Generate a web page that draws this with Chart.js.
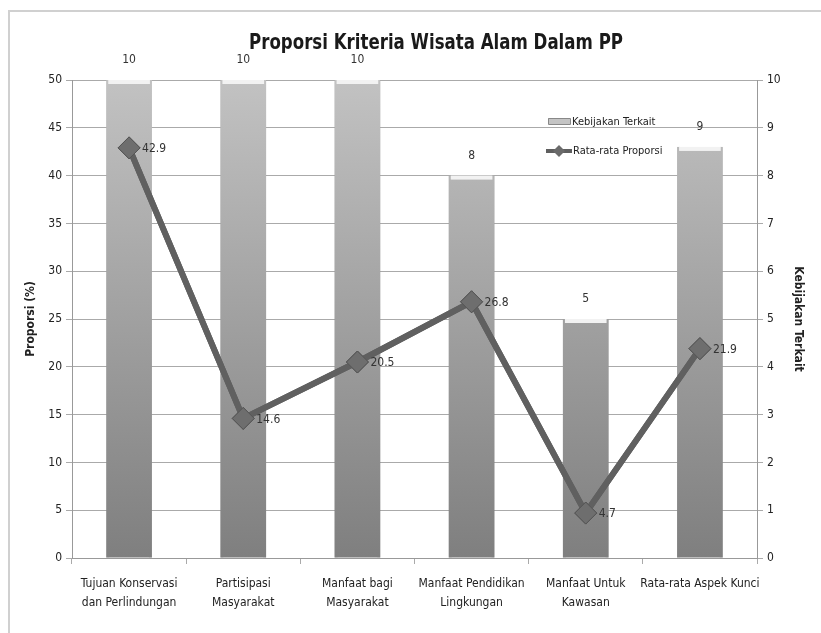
<!DOCTYPE html>
<html>
<head>
<meta charset="utf-8">
<script src="https://cdn.jsdelivr.net/npm/chart.js@4.4.0/dist/chart.umd.min.js"></script>
<style>
  html, body { margin: 0; padding: 0; background: #fff; }
  #wrap { position: relative; width: 821px; height: 633px; }
</style>
</head>
<body>
<div id="wrap"><canvas id="kriteriaChart" width="821" height="633"></canvas></div>
<script>
// data kriteria
const categories = [
  ['Tujuan Konservasi', 'dan Perlindungan'],
  ['Partisipasi', 'Masyarakat'],
  ['Manfaat bagi', 'Masyarakat'],
  ['Manfaat Pendidikan', 'Lingkungan'],
  ['Manfaat Untuk', 'Kawasan'],
  ['Rata-rata Aspek Kunci']
];
const kebijakanTerkait = [10, 10, 10, 8, 5, 8.6];
const rataProporsi = [42.9, 14.6, 20.5, 26.8, 4.7, 21.9];
const leftTicks = [0, 5, 10, 15, 20, 25, 30, 35, 40, 45, 50];
const rightTicks = [0, 1, 2, 3, 4, 5, 6, 7, 8, 9, 10];

const FONT = '"DejaVu Sans Condensed", "Liberation Sans Narrow", Arial, sans-serif';

function barGradient(context) {
  const chart = context.chart;
  const area = chart.chartArea;
  if (!area) return '#a0a0a0';
  const g = chart.ctx.createLinearGradient(0, area.top, 0, area.bottom);
  g.addColorStop(0, '#c2c2c2');
  g.addColorStop(1, '#7f7f7f');
  return g;
}

// frame, title, legend, labels
const extras = {
  id: 'extras',
  beforeDraw(chart) {
    const c = chart.ctx;
    c.save();
    c.strokeStyle = '#d0d0d0';
    c.lineWidth = 2;
    c.strokeRect(9, 11, 830, 640);
    c.restore();
  },
  beforeDatasetsDraw(chart) {
    // light cap + darker sides on bars (Excel style)
    const c = chart.ctx;
    c.save();
    chart.getDatasetMeta(1).data.forEach(bar => {
      const w = bar.width;
      const left = bar.x - w / 2;
      c.fillStyle = 'rgba(90,90,90,0.25)';
      c.fillRect(left, bar.y, 3, bar.base - bar.y);
      c.fillRect(left + w - 3, bar.y, 3, bar.base - bar.y);
    });
    c.restore();
  },
  afterDatasetsDraw(chart) {
    const c = chart.ctx;
    c.save();
    // bar caps
    chart.getDatasetMeta(1).data.forEach(bar => {
      const w = bar.width;
      c.fillStyle = '#f2f2f2';
      c.fillRect(bar.x - w / 2 + 2, bar.y, w - 4, 4);
    });
    // line drawn again above caps
    const pts = chart.getDatasetMeta(0).data;
    c.strokeStyle = '#606060';
    c.lineWidth = 6;
    c.lineJoin = 'round';
    c.beginPath();
    pts.forEach((p, i) => (i ? c.lineTo(p.x, p.y) : c.moveTo(p.x, p.y)));
    c.stroke();
    pts.forEach(p => {
      c.fillStyle = '#6e6e6e';
      c.strokeStyle = '#555';
      c.lineWidth = 1;
      c.beginPath();
      c.moveTo(p.x, p.y - 11); c.lineTo(p.x + 11, p.y); c.lineTo(p.x, p.y + 11); c.lineTo(p.x - 11, p.y);
      c.closePath();
      c.fill();
      c.stroke();
    });

    // title (narrow)
    c.save();
    c.fillStyle = '#1a1a1a';
    c.font = 'bold 21px ' + FONT;
    c.textAlign = 'center';
    c.textBaseline = 'middle';
    c.translate(436, 44);
    c.scale(0.88, 1);
    c.fillText('Proporsi Kriteria Wisata Alam Dalam PP', 0, 0);
    c.restore();

    // bar value labels
    c.font = '12px ' + FONT;
    c.fillStyle = '#333';
    c.textAlign = 'center';
    c.textBaseline = 'middle';
    chart.getDatasetMeta(1).data.forEach((bar, i) => {
      c.fillText(String(Math.round(kebijakanTerkait[i])), bar.x, bar.y - 20);
    });
    // line value labels
    c.textAlign = 'left';
    pts.forEach((pt, i) => {
      c.fillText(String(rataProporsi[i]), pt.x + 13, pt.y + 1);
    });

    // legend
    c.fillStyle = '#c4c4c4';
    c.fillRect(548, 118, 22, 6);
    c.strokeStyle = '#888';
    c.lineWidth = 1;
    c.strokeRect(548.5, 118.5, 22, 6);
    c.strokeStyle = '#5f5f5f';
    c.lineWidth = 4;
    c.beginPath();
    c.moveTo(546, 151);
    c.lineTo(572, 151);
    c.stroke();
    c.fillStyle = '#6a6a6a';
    c.beginPath();
    c.moveTo(559, 145); c.lineTo(565, 151); c.lineTo(559, 157); c.lineTo(553, 151);
    c.closePath();
    c.fill();
    c.fillStyle = '#222';
    c.font = '11px ' + FONT;
    c.fillText('Kebijakan Terkait', 572, 122);
    c.fillText('Rata-rata Proporsi', 573, 151);
    c.restore();
  }
};

const ctx = document.getElementById('kriteriaChart').getContext('2d');

const kriteriaChart = new Chart(ctx, {
  type: 'bar',
  data: {
    labels: categories,
    datasets: [
      {
        type: 'line',
        label: 'Rata-rata Proporsi',
        data: rataProporsi,
        yAxisID: 'y',
        borderColor: '#606060',
        borderWidth: 6,
        pointStyle: 'rectRot',
        pointRadius: 11,
        pointBackgroundColor: '#6e6e6e',
        pointBorderColor: '#555',
        pointBorderWidth: 1,
        tension: 0,
        order: 0
      },
      {
        type: 'bar',
        label: 'Kebijakan Terkait',
        data: kebijakanTerkait,
        yAxisID: 'y1',
        backgroundColor: barGradient,
        borderWidth: 0,
        categoryPercentage: 1,
        barPercentage: 0.4,
        order: 1
      }
    ]
  },
  options: {
    responsive: false,
    animation: false,
    layout: { padding: { top: 80, left: 22, right: 14, bottom: 0 } },
    plugins: {
      legend: { display: false },
      tooltip: { enabled: false }
    },
    scales: {
      x: {
        offset: true,
        grid: { display: true, drawOnChartArea: false, tickLength: 6, color: '#aaa', offset: true },
        border: { color: '#999' },
        ticks: { color: '#222', font: { family: FONT, size: 12, lineHeight: 1.6 }, padding: 10, maxRotation: 0, autoSkip: false },
        afterFit(scale) { scale.height = 75; }
      },
      y: {
        position: 'left',
        min: 0,
        max: 50,
        afterBuildTicks(scale) { scale.ticks = leftTicks.map(v => ({ value: v })); },
        grid: { color: '#aaa', tickLength: 6 },
        border: { color: '#999' },
        ticks: { color: '#222', font: { family: FONT, size: 12 }, padding: 4 },
        title: { display: true, text: 'Proporsi (%)', color: '#222', font: { family: FONT, size: 12, weight: 'bold' }, padding: 2 },
        afterFit(scale) { scale.width = 50; }
      },
      y1: {
        position: 'right',
        min: 0,
        max: 10,
        afterBuildTicks(scale) { scale.ticks = rightTicks.map(v => ({ value: v })); },
        grid: { drawOnChartArea: false, color: '#aaa', tickLength: 6 },
        border: { color: '#999' },
        ticks: { color: '#222', font: { family: FONT, size: 12 }, padding: 4 },
        title: { display: true, text: 'Kebijakan Terkait', color: '#222', font: { family: FONT, size: 12, weight: 'bold' }, padding: 2 },
        afterFit(scale) { scale.width = 50; }
      }
    }
  },
  plugins: [extras]
});
</script>
</body>
</html>
